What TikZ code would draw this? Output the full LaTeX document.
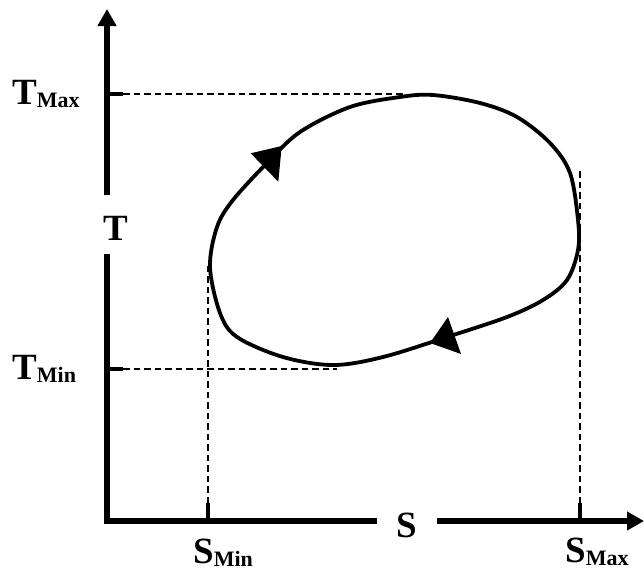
\documentclass[tikz,border=0pt]{standalone}
\usepackage{fontspec}
\setmainfont{Liberation Serif}
\usetikzlibrary{arrows.meta}
\newcommand\subtxt[1]{\raisebox{-3pt}{\fontsize{22}{22}\selectfont #1}}
\begin{document}
\begin{tikzpicture}[x=1pt,y=-1pt,
  axis/.style={line width=6pt, line join=miter},
  axtip/.style={-{Triangle[length=17pt,width=18pt]}},
  tickmark/.style={line width=3.8pt},
  guide/.style={line width=1.3pt, dash pattern=on 6.5pt off 4pt},
  loopline/.style={line width=3.8pt},
  head/.style={fill=black},
  lbl/.style={font=\bfseries\fontsize{37}{40}\selectfont, inner sep=0pt}]
\useasboundingbox (0,0) rectangle (644,571);
% coordinates
\coordinate (O) at (107,521);
\coordinate (Tlow) at (107,254);
\coordinate (Thigh) at (107,195);
\coordinate (Ttip) at (107,9);
\coordinate (Sleft) at (377,521);
\coordinate (Sright) at (437,521);
\coordinate (Stip) at (644,521);
% axes
\draw[axis] (Tlow) -- (O) -- (Sleft);
\draw[axis,axtip] (Thigh) -- (Ttip);
\draw[axis,axtip] (Sright) -- (Stip);
% labels
\node[lbl,anchor=base] (Tlab) at (116,240) {T};
\node[lbl,anchor=base] (Slab) at (407,537) {S};
\node[lbl,anchor=base west] (TMaxlab) at (12,104) {T\subtxt{Max}};
\node[lbl,anchor=base west] (TMinlab) at (12,379) {T\subtxt{Min}};
\node[lbl,anchor=base west] (SMinlab) at (193,563) {S\subtxt{Min}};
\node[lbl,anchor=base west] (SMaxlab) at (565,562) {S\subtxt{Max}};
% ticks
\coordinate (tmaxA) at (107,94);  \coordinate (tmaxB) at (123,94);  \coordinate (tmaxC) at (403,94);
\coordinate (tminA) at (107,369); \coordinate (tminB) at (123,369); \coordinate (tminC) at (337,369);
\coordinate (sminA) at (208,521); \coordinate (sminB) at (208,503); \coordinate (sminC) at (208,265);
\coordinate (smaxA) at (580,521); \coordinate (smaxB) at (580,503); \coordinate (smaxC) at (580,170);
\draw[tickmark] (tmaxA) -- (tmaxB);
\draw[tickmark] (tminA) -- (tminB);
\draw[tickmark] (sminA) -- (sminB);
\draw[tickmark] (smaxA) -- (smaxB);
\draw[guide] (tmaxB) -- (tmaxC);
\draw[guide] (tminB) -- (tminC);
\draw[guide] (sminB) -- (sminC);
\draw[guide] (smaxB) -- (smaxC);
% cycle
\draw[loopline] plot[smooth cycle, tension=0.55] coordinates {
  (433,95) (480,103) (517,117) (550,143) (570,173) (578,220) (578,250)
  (567,280) (543,300) (507,317) (447,337) (383,357) (333,365) (283,357)
  (237,337) (220,313) (210,267) (217,227) (233,200) (267,163) (300,132)
  (350,107) (400,97)};
% arrowheads on the cycle
\fill[head] (281.7,146) -- (250.7,153.3) -- (278.3,181.7) -- cycle;
\fill[head] (430,343) -- (448,317) -- (461,354) -- cycle;
\end{tikzpicture}
\end{document}
